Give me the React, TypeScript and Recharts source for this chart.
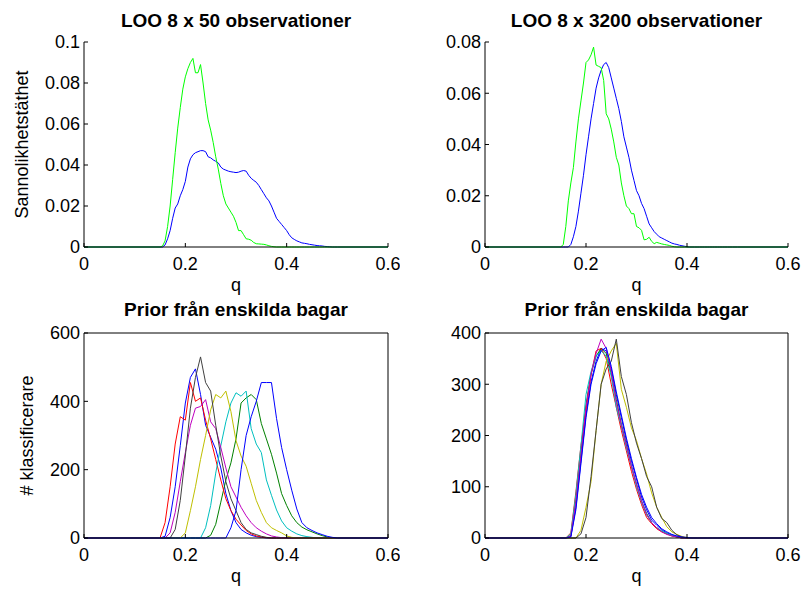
import { LineChart, Line, XAxis, YAxis } from "recharts";

// q grid for the two LOO density plots
const qFine = [
  0,
  0.15, 0.155, 0.16, 0.165, 0.17, 0.175, 0.18, 0.185, 0.19, 0.195,
  0.2, 0.205, 0.21, 0.215, 0.22, 0.225, 0.23, 0.235, 0.24, 0.245,
  0.25, 0.255, 0.26, 0.265, 0.27, 0.275, 0.28, 0.285, 0.29, 0.295,
  0.3, 0.305, 0.31, 0.315, 0.32, 0.325, 0.33, 0.335, 0.34, 0.345,
  0.35, 0.355, 0.36, 0.365, 0.37, 0.375, 0.38, 0.385, 0.39, 0.395,
  0.4, 0.405, 0.41, 0.415, 0.42, 0.425, 0.43, 0.435, 0.44, 0.445,
  0.45, 0.455, 0.46, 0.465, 0.47, 0.475, 0.48, 0.485, 0.49, 0.495,
  0.5, 0.6,
];

const loo50Blue = [
  0,
  0, 0, 0.001, 0.004, 0.008, 0.014, 0.019, 0.021, 0.025, 0.028,
  0.032, 0.039, 0.043, 0.045, 0.046, 0.0465, 0.047, 0.047, 0.0465, 0.044,
  0.0435, 0.0425, 0.0418, 0.041, 0.039, 0.038, 0.0375, 0.037, 0.0367, 0.0365,
  0.0363, 0.0365, 0.037, 0.0373, 0.037, 0.035, 0.0335, 0.0325, 0.0316, 0.03,
  0.028, 0.026, 0.024, 0.0225, 0.02, 0.017, 0.014, 0.0125, 0.011, 0.0095,
  0.008, 0.006, 0.0045, 0.0037, 0.003, 0.0025, 0.002, 0.0018, 0.0016, 0.0013,
  0.0011, 0.0009, 0.0007, 0.0006, 0.0005, 0.0003, 0.0002, 0.0001, 0, 0,
  0, 0,
];
const loo50Green = [
  0,
  0, 0.0005, 0.003, 0.01, 0.02, 0.033, 0.046, 0.058, 0.068, 0.077,
  0.083, 0.087, 0.09, 0.092, 0.085, 0.085, 0.089, 0.08, 0.07, 0.062,
  0.057, 0.051, 0.044, 0.038, 0.031, 0.025, 0.021, 0.019, 0.017, 0.015,
  0.012, 0.008, 0.008, 0.006, 0.004, 0.0038, 0.0033, 0.0022, 0.0016, 0.0015,
  0.0014, 0.0013, 0.001, 0.0006, 0.0003, 0.0001, 0, 0, 0, 0,
  0, 0, 0, 0, 0, 0, 0, 0, 0, 0,
  0, 0, 0, 0, 0, 0, 0, 0, 0, 0,
  0, 0,
];

const loo3200Blue = [
  0,
  0, 0, 0, 0, 0.001, 0.004, 0.008, 0.014, 0.021, 0.028,
  0.036, 0.043, 0.05, 0.056, 0.062, 0.066, 0.069, 0.0712, 0.072, 0.07,
  0.066, 0.062, 0.058, 0.054, 0.049, 0.043, 0.039, 0.035, 0.03, 0.026,
  0.022, 0.02, 0.017, 0.015, 0.012, 0.009, 0.0075, 0.006, 0.005, 0.004,
  0.0035, 0.003, 0.0025, 0.002, 0.0015, 0.0012, 0.001, 0.0007, 0.0005, 0.0003,
  0.0001, 0, 0, 0, 0, 0, 0, 0, 0, 0,
  0, 0, 0, 0, 0, 0, 0, 0, 0, 0,
  0, 0,
];
const loo3200Green = [
  0,
  0, 0.001, 0.008, 0.018, 0.025, 0.031, 0.041, 0.05, 0.057, 0.064,
  0.072, 0.073, 0.075, 0.078, 0.071, 0.0705, 0.07, 0.065, 0.052, 0.05,
  0.046, 0.041, 0.035, 0.032, 0.025, 0.02, 0.016, 0.015, 0.013, 0.013,
  0.008, 0.0075, 0.0065, 0.0028, 0.003, 0.0038, 0.0022, 0.0013, 0.0018, 0.0015,
  0.0012, 0.001, 0.0008, 0.0006, 0.0003, 0.0001, 0, 0, 0, 0,
  0, 0, 0, 0, 0, 0, 0, 0, 0, 0,
  0, 0, 0, 0, 0, 0, 0, 0, 0, 0,
  0, 0,
];

// q grid for the per-bag histograms
const qCoarse = [
  0,
  0.14, 0.15, 0.16, 0.17, 0.18, 0.19,
  0.2, 0.21, 0.22, 0.23, 0.24, 0.25, 0.26, 0.27, 0.28, 0.29,
  0.3, 0.31, 0.32, 0.33, 0.34, 0.35, 0.36, 0.37, 0.38, 0.39,
  0.4, 0.41, 0.42, 0.43, 0.44, 0.45, 0.46, 0.47, 0.48, 0.49,
  0.5, 0.6,
];

// left: priors from bags trained on 50 observations
const bag50 = [
  [0, 0, 0, 5, 60, 150, 270, 395, 470, 495, 420, 330, 295, 260, 205, 130, 80, 45, 25, 15, 8, 4, 2, 0, 0, 0, 0, 0, 0, 0, 0, 0, 0, 0, 0, 0, 0, 0, 0],
  [0, 0, 0, 0, 0, 0, 0, 0, 0, 0, 0, 0, 8, 40, 105, 170, 220, 290, 395, 410, 420, 405, 335, 290, 245, 190, 130, 95, 65, 45, 32, 24, 18, 12, 7, 3, 0, 0, 0],
  [0, 0, 0, 45, 150, 275, 355, 345, 455, 400, 410, 345, 290, 230, 170, 115, 80, 55, 38, 22, 12, 6, 3, 1, 0, 0, 0, 0, 0, 0, 0, 0, 0, 0, 0, 0, 0, 0, 0],
  [0, 0, 0, 0, 0, 0, 0, 0, 0, 0, 0, 30, 95, 190, 270, 340, 395, 425, 415, 430, 320, 275, 250, 170, 125, 82, 50, 30, 20, 12, 7, 4, 2, 0, 0, 0, 0, 0, 0],
  [0, 0, 0, 0, 15, 75, 165, 250, 330, 380, 385, 405, 340, 320, 265, 205, 150, 120, 90, 65, 45, 30, 20, 12, 6, 3, 1, 0, 0, 0, 0, 0, 0, 0, 0, 0, 0, 0, 0],
  [0, 0, 0, 0, 0, 0, 0, 15, 80, 150, 230, 300, 375, 420, 410, 430, 370, 285, 240, 210, 160, 110, 75, 45, 30, 22, 15, 6, 2, 0, 0, 0, 0, 0, 0, 0, 0, 0, 0],
  [0, 0, 0, 0, 0, 25, 110, 240, 380, 470, 530, 455, 430, 330, 240, 165, 115, 80, 45, 25, 15, 10, 5, 2, 0, 0, 0, 0, 0, 0, 0, 0, 0, 0, 0, 0, 0, 0, 0],
  [0, 0, 0, 0, 0, 0, 0, 0, 0, 0, 0, 0, 0, 0, 0, 0, 30, 80, 200, 300, 355, 400, 455, 455, 455, 350, 265, 200, 140, 85, 45, 30, 22, 15, 10, 5, 2, 0, 0],
];

// right: priors from bags trained on 3200 observations
const bag3200 = [
  [0, 0, 0, 0, 3, 60, 150, 240, 305, 345, 370, 365, 330, 280, 235, 190, 150, 115, 80, 55, 35, 25, 16, 10, 6, 3, 1, 0, 0, 0, 0, 0, 0, 0, 0, 0, 0, 0, 0],
  [0, 0, 0, 0, 5, 75, 165, 260, 320, 355, 370, 360, 320, 270, 222, 182, 140, 105, 72, 48, 30, 20, 13, 8, 5, 2, 0, 0, 0, 0, 0, 0, 0, 0, 0, 0, 0, 0, 0],
  [0, 0, 0, 0, 10, 90, 180, 250, 320, 365, 370, 350, 300, 255, 210, 170, 130, 95, 65, 40, 28, 18, 12, 8, 4, 2, 0, 0, 0, 0, 0, 0, 0, 0, 0, 0, 0, 0, 0],
  [0, 0, 0, 0, 8, 85, 180, 280, 325, 355, 365, 355, 315, 255, 218, 175, 140, 100, 70, 45, 30, 20, 14, 9, 5, 2, 0, 0, 0, 0, 0, 0, 0, 0, 0, 0, 0, 0, 0],
  [0, 0, 0, 0, 4, 70, 160, 255, 320, 360, 388, 370, 325, 265, 220, 180, 140, 105, 72, 46, 30, 20, 12, 7, 4, 2, 0, 0, 0, 0, 0, 0, 0, 0, 0, 0, 0, 0, 0],
  [0, 0, 0, 0, 0, 0, 15, 60, 110, 210, 300, 345, 365, 380, 290, 255, 215, 190, 155, 125, 88, 60, 40, 22, 12, 7, 3, 1, 0, 0, 0, 0, 0, 0, 0, 0, 0, 0, 0],
  [0, 0, 0, 0, 0, 0, 8, 40, 120, 210, 300, 330, 345, 388, 315, 280, 225, 185, 155, 120, 100, 60, 38, 30, 15, 6, 2, 0, 0, 0, 0, 0, 0, 0, 0, 0, 0, 0, 0],
  [0, 0, 0, 0, 2, 55, 145, 235, 300, 340, 365, 372, 335, 285, 240, 195, 155, 118, 85, 60, 40, 28, 18, 12, 7, 4, 2, 1, 0, 0, 0, 0, 0, 0, 0, 0, 0, 0, 0],
];

const qTicks = [0, 0.2, 0.4, 0.6];
const densityTicks50 = [0, 0.02, 0.04, 0.06, 0.08, 0.1];
const densityTicks3200 = [0, 0.02, 0.04, 0.06, 0.08];
const countTicks50 = [0, 200, 400, 600];
const countTicks3200 = [0, 100, 200, 300, 400];

// matlab's default line order
const bagColors = ["#0000ff", "#008000", "#ff0000", "#00bfbf", "#bf00bf", "#bfbf00", "#404040", "#0000ff"];

const FONT = "'Liberation Sans', Arial, Helvetica, sans-serif";
const TICK_FS = 18;
const TICK_LEN = 4;
const Y_GAP = 4;
const X_GAP = 10;

const buildRows = (qs: number[], series: number[][]) =>
  qs.map((q, i) => {
    const row: Record<string, number> = { q };
    series.forEach((s, k) => {
      row[`s${k}`] = s[i];
    });
    return row;
  });

type TickProps = { x?: number; y?: number; payload?: { value: number } };

// ticks point into the plot, like matlab
const LeftTick = ({ x = 0, y = 0, payload }: TickProps) => {
  const axisX = x + Y_GAP;
  return (
    <g>
      <line x1={axisX} x2={axisX + TICK_LEN} y1={y} y2={y} stroke="#000" />
      <text x={x} y={y} dy="0.36em" textAnchor="end" fontSize={TICK_FS} fontFamily={FONT} fill="#000">
        {String(payload?.value)}
      </text>
    </g>
  );
};

const BottomTick = ({ x = 0, y = 0, payload }: TickProps) => {
  const axisY = y - X_GAP;
  return (
    <g>
      <line x1={x} x2={x} y1={axisY} y2={axisY - TICK_LEN} stroke="#000" />
      <text x={x} y={y} dy="0.71em" textAnchor="middle" fontSize={TICK_FS} fontFamily={FONT} fill="#000">
        {String(payload?.value)}
      </text>
    </g>
  );
};

interface PanelProps {
  left: number;
  top: number;
  width: number;
  height: number;
  marginTop: number;
  marginRight: number;
  yAxisWidth: number;
  xAxisHeight: number;
  qLabelOffset: number;
  yLabelOffset?: number;
  rows: Record<string, number>[];
  colors: string[];
  yDomain: [number, number];
  yTicks: number[];
  yLabel?: string;
  boxed?: boolean;
}

const Panel = (p: PanelProps) => (
  <div style={{ position: "absolute", left: p.left, top: p.top }}>
    <LineChart
      width={p.width}
      height={p.height}
      data={p.rows}
      margin={{ top: p.marginTop, right: p.marginRight, bottom: 0, left: 0 }}
    >
      <XAxis
        dataKey="q"
        type="number"
        domain={[0, 0.6]}
        ticks={qTicks}
        interval={0}
        height={p.xAxisHeight}
        tickSize={0}
        tickMargin={X_GAP}
        tickLine={false}
        stroke="#000"
        tick={<BottomTick />}
        label={{
          value: "q",
          position: "insideBottom",
          offset: p.qLabelOffset,
          fontSize: TICK_FS,
          fontFamily: FONT,
          fill: "#000",
        }}
      />
      <YAxis
        type="number"
        domain={p.yDomain}
        ticks={p.yTicks}
        interval={0}
        width={p.yAxisWidth}
        tickSize={0}
        tickMargin={Y_GAP}
        tickLine={false}
        stroke="#000"
        tick={<LeftTick />}
        label={
          p.yLabel
            ? {
                value: p.yLabel,
                angle: -90,
                position: "insideLeft",
                offset: p.yLabelOffset ?? 22,
                fontSize: TICK_FS,
                fontFamily: FONT,
                fill: "#000",
                style: { textAnchor: "middle" },
              }
            : undefined
        }
      />
      {p.boxed && (
        <XAxis
          xAxisId="top"
          orientation="top"
          mirror
          type="number"
          dataKey="q"
          domain={[0, 0.6]}
          ticks={qTicks}
          interval={0}
          tick={false}
          tickSize={TICK_LEN}
          stroke="#000"
        />
      )}
      {p.boxed && (
        <YAxis
          yAxisId="right"
          orientation="right"
          mirror
          type="number"
          domain={p.yDomain}
          ticks={p.yTicks}
          interval={0}
          tick={false}
          tickSize={TICK_LEN}
          stroke="#000"
        />
      )}
      {p.colors.map((c, k) => (
        <Line
          key={k}
          dataKey={`s${k}`}
          stroke={c}
          strokeWidth={1}
          dot={false}
          type="linear"
          isAnimationActive={false}
        />
      ))}
    </LineChart>
  </div>
);

const titles = [
  { text: "LOO 8 x 50 observationer", x: 236, y: 27 },
  { text: "LOO 8 x 3200 observationer", x: 636.5, y: 27 },
  { text: "Prior från enskilda bagar", x: 236, y: 316 },
  { text: "Prior från enskilda bagar", x: 636.5, y: 316 },
];

export default function App() {
  return (
    <div style={{ position: "absolute", left: 0, top: 0, width: 804, height: 589, background: "#fff" }}>
      <Panel
        left={0}
        top={0}
        width={400}
        height={300}
        marginTop={42}
        marginRight={12}
        yAxisWidth={84}
        xAxisHeight={53}
        qLabelOffset={9}
        yLabelOffset={22}
        rows={buildRows(qFine, [loo50Blue, loo50Green])}
        colors={["#0000ff", "#00ff00"]}
        yDomain={[0, 0.1]}
        yTicks={densityTicks50}
        yLabel="Sannolikhetstäthet"
      />
      <Panel
        left={400}
        top={0}
        width={404}
        height={300}
        marginTop={42}
        marginRight={16}
        yAxisWidth={85}
        xAxisHeight={53}
        qLabelOffset={9}
        rows={buildRows(qFine, [loo3200Blue, loo3200Green])}
        colors={["#0000ff", "#00ff00"]}
        yDomain={[0, 0.08]}
        yTicks={densityTicks3200}
      />
      <Panel
        left={0}
        top={290}
        width={400}
        height={299}
        marginTop={43}
        marginRight={12}
        yAxisWidth={84}
        xAxisHeight={51}
        qLabelOffset={7}
        yLabelOffset={27}
        rows={buildRows(qCoarse, bag50)}
        colors={bagColors}
        yDomain={[0, 600]}
        yTicks={countTicks50}
        yLabel="# klassificerare"
        boxed
      />
      <Panel
        left={400}
        top={290}
        width={404}
        height={299}
        marginTop={43}
        marginRight={16}
        yAxisWidth={85}
        xAxisHeight={51}
        qLabelOffset={7}
        rows={buildRows(qCoarse, bag3200)}
        colors={bagColors}
        yDomain={[0, 400]}
        yTicks={countTicks3200}
        boxed
      />
      <svg width={804} height={589} style={{ position: "absolute", left: 0, top: 0, pointerEvents: "none" }}>
        {titles.map((t, i) => (
          <text
            key={i}
            x={t.x}
            y={t.y}
            textAnchor="middle"
            fontSize={19}
            fontWeight="bold"
            fontFamily={FONT}
            fill="#000"
          >
            {t.text}
          </text>
        ))}
      </svg>
    </div>
  );
}
